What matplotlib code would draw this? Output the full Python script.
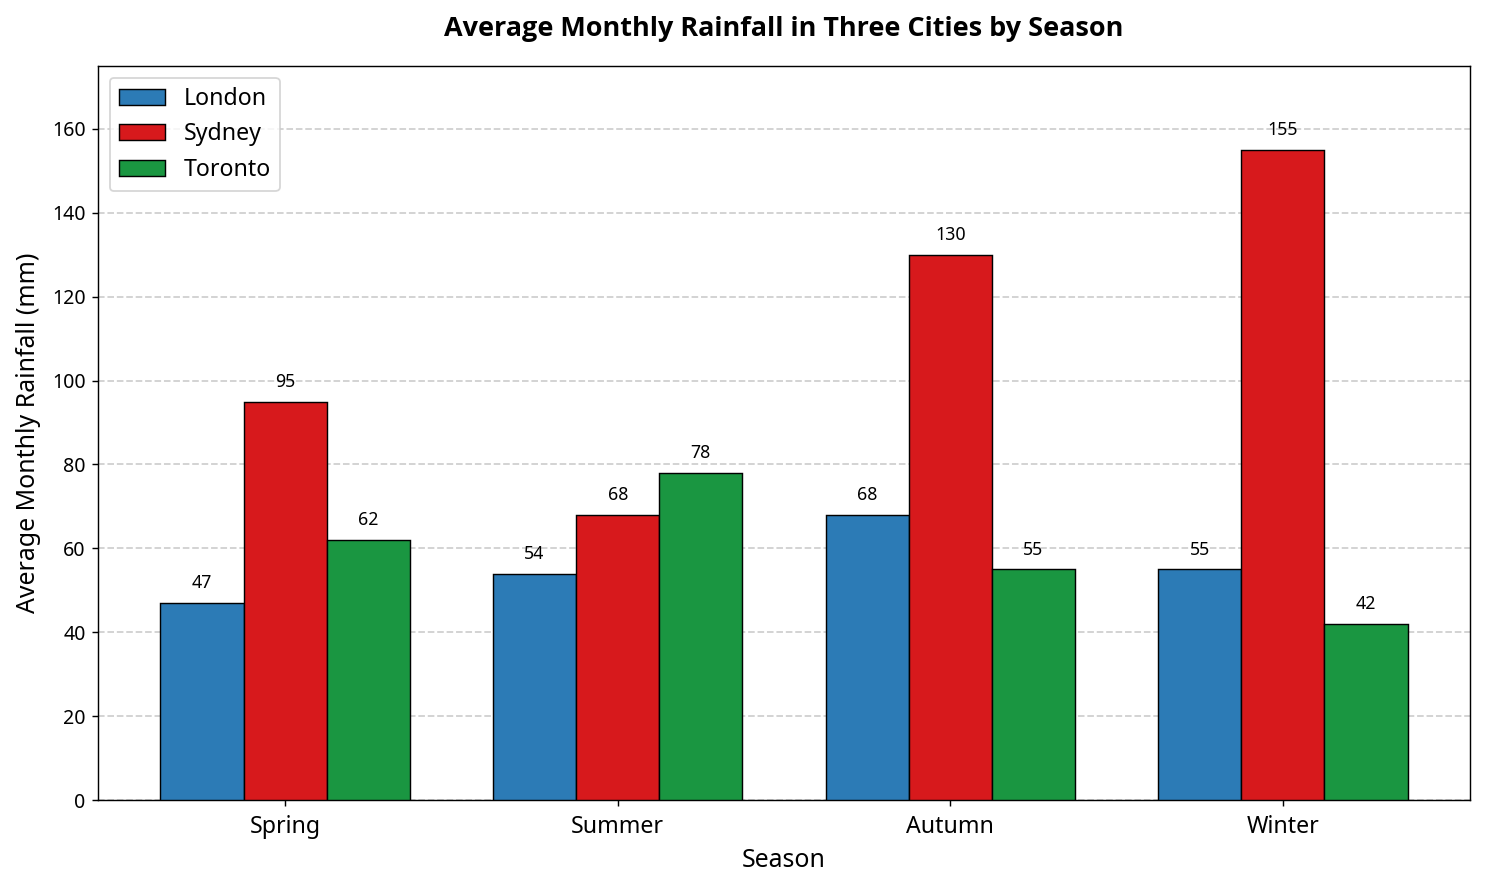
import matplotlib
matplotlib.use("Agg")
import matplotlib.pyplot as plt
import numpy as np

plt.rcParams['font.family'] = ['Noto Sans', 'DejaVu Sans']

seasons = ["Spring", "Summer", "Autumn", "Winter"]
cities = ["London", "Sydney", "Toronto"]
london = [47, 54, 68, 55]
sydney = [95, 68, 130, 155]
toronto = [62, 78, 55, 42]
colors = ["#2c7bb6", "#d7191c", "#1a9641"]

DPI = 128
fig, ax = plt.subplots(figsize=(1486 / DPI, 887 / DPI), dpi=DPI)
fig.subplots_adjust(left=98 / 1486, right=1470 / 1486, top=1 - 66 / 887, bottom=1 - 800 / 887)

x = np.arange(len(seasons))
w = 0.25
for i, (vals, name, c) in enumerate(zip([london, sydney, toronto], cities, colors)):
    bars = ax.bar(x + (i - 1) * w, vals, w, label=name, color=c, edgecolor="black", linewidth=0.8, zorder=3)
    for b, v in zip(bars, vals):
        ax.annotate(f"{v}", (b.get_x() + b.get_width() / 2, b.get_height()),
                    xytext=(0, 6), textcoords="offset points", ha="center", va="bottom", fontsize=10)

ax.set_ylim(0, 175)
ax.set_xticks(x)
ax.set_xticklabels(seasons, fontsize=13)
ax.tick_params(axis="x", pad=5)
ax.tick_params(axis="y", labelsize=11)
ax.set_xlabel("Season", fontsize=14, labelpad=5)
ax.set_ylabel("Average Monthly Rainfall (mm)", fontsize=14, labelpad=6)
ax.set_title("Average Monthly Rainfall in Three Cities by Season", fontsize=15.2,
             fontweight="bold", family=["Open Sans", "DejaVu Sans"], pad=17)
ax.yaxis.grid(True, linestyle="--", color="#bbbbbb", alpha=0.7, linewidth=1, zorder=0)
ax.set_axisbelow(True)
ax.legend(loc="upper left", fontsize=13)

fig.savefig("out.png", dpi=DPI)
